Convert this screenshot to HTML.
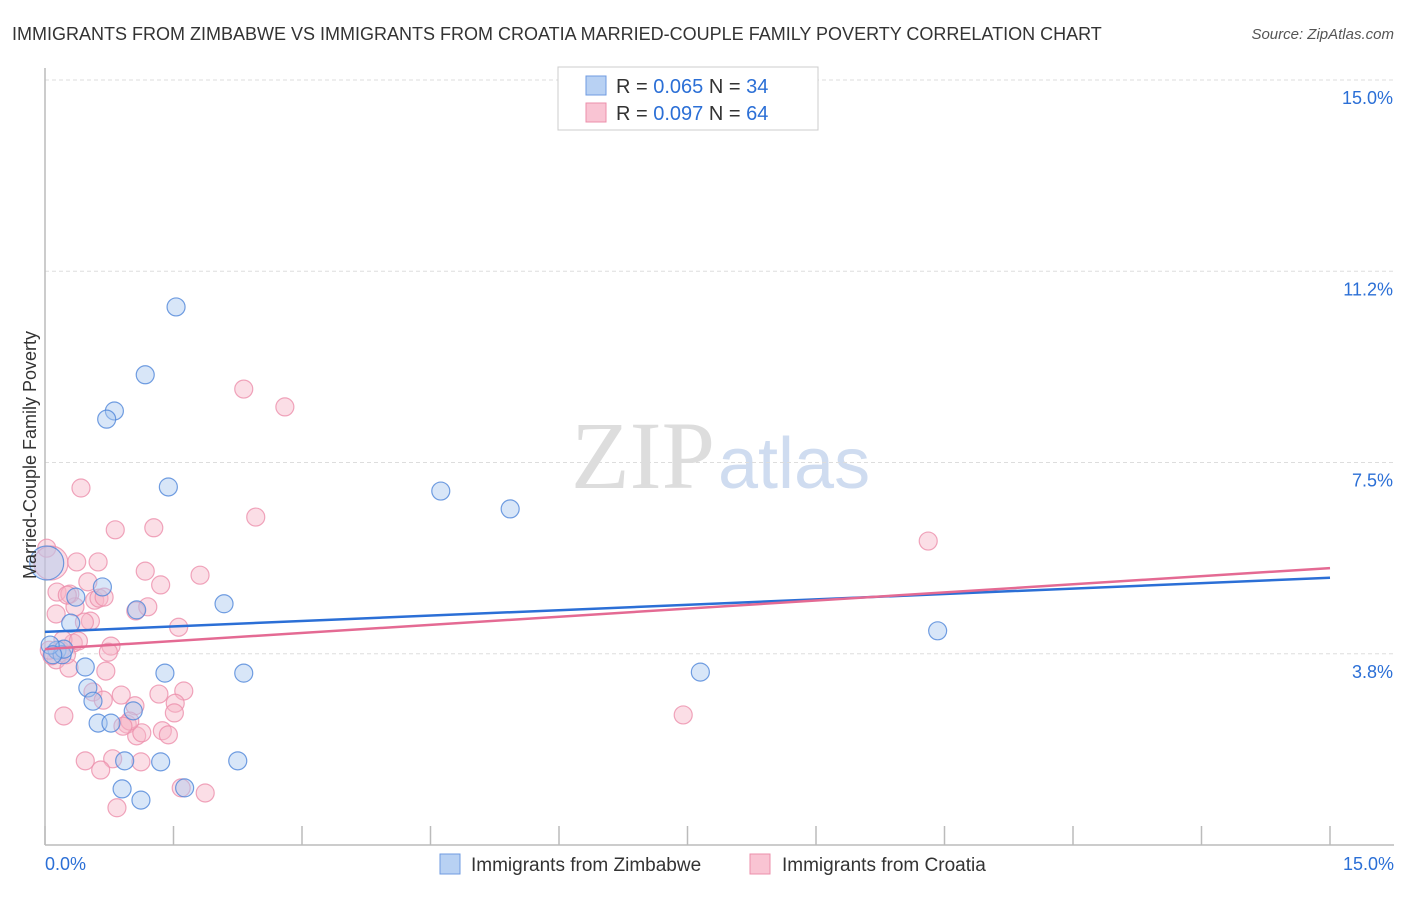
<!DOCTYPE html>
<html><head><meta charset="utf-8"><style>
body{margin:0;background:#fff;font-family:"Liberation Sans",sans-serif;}
</style></head><body>
<svg width="1406" height="892" xmlns="http://www.w3.org/2000/svg" font-family="Liberation Sans, sans-serif">
<text x="12" y="40" font-size="18" fill="#333">IMMIGRANTS FROM ZIMBABWE VS IMMIGRANTS FROM CROATIA MARRIED-COUPLE FAMILY POVERTY CORRELATION CHART</text>
<text x="1394" y="39" font-size="15" fill="#555" font-style="italic" text-anchor="end">Source: ZipAtlas.com</text>
<text x="715" y="488" font-size="96" font-family="Liberation Serif, serif" fill="#ddd" text-anchor="end">ZIP</text>
<text x="718" y="488" font-size="72" fill="#cfdcf0">atlas</text>
<g id="grid"></g>
<g id="axes"></g>
<g id="pts"></g>
<g id="trend"></g>
<text x="36" y="455" font-size="18" fill="#333" text-anchor="middle" transform="rotate(-90 36 455)">Married-Couple Family Poverty</text>
<g>
<rect x="558" y="67" width="260" height="63" fill="#fff" stroke="#ccc"/>
<rect x="586" y="76" width="20" height="19" fill="#b8d1f3" stroke="#6f9be0"/>
<rect x="586" y="103" width="20" height="19" fill="#f9c4d3" stroke="#ec8fab"/>
<text x="616" y="93" font-size="20" fill="#333">R = <tspan fill="#2b6fd6">0.065</tspan>   N = <tspan fill="#2b6fd6">34</tspan></text>
<text x="616" y="120" font-size="20" fill="#333">R = <tspan fill="#2b6fd6">0.097</tspan>   N = <tspan fill="#2b6fd6">64</tspan></text>
</g>
<g>
<rect x="440" y="854" width="20" height="20" fill="#b8d1f3" stroke="#6f9be0"/>
<text x="471" y="871" font-size="19" fill="#333">Immigrants from Zimbabwe</text>
<rect x="750" y="854" width="20" height="20" fill="#f9c4d3" stroke="#ec8fab"/>
<text x="782" y="871" font-size="19" fill="#333">Immigrants from Croatia</text>
</g>
<text x="45" y="870" font-size="18" fill="#2b6fd6">0.0%</text>
<text x="1394" y="870" font-size="18" fill="#2b6fd6" text-anchor="end">15.0%</text>
</svg>
<script>
const yTicks=[15.0,11.2,7.5,3.8];
const yTickLabels=["15.0%","11.2%","7.5%","3.8%"];
const yTickVals=[15,11.25,7.5,3.75];
const xTicks=[0,1.5,3,4.5,6,7.5,9,10.5,12,13.5,15];
const zimX=[1.53,1.17,0.81,0.72,1.44,4.62,5.43,0.67,0.36,1.07,2.09,0.30,10.42,0.02,0.14,0.20,0.47,1.40,2.32,7.65,0.50,0.56,0.62,0.77,1.03,0.93,1.35,2.25,0.90,1.12,1.63,0.22,0.06,0.09];
const zimY=[10.55,9.22,8.51,8.35,7.02,6.94,6.59,5.06,4.86,4.61,4.73,4.35,4.20,5.53,3.82,3.73,3.49,3.37,3.37,3.39,3.08,2.82,2.39,2.39,2.63,1.65,1.63,1.65,1.10,0.88,1.12,3.84,3.92,3.73];
const croX=[0.02,0.07,0.42,0.82,1.27,2.32,2.80,2.46,0.62,0.37,1.17,0.50,1.35,1.81,0.14,0.29,0.58,0.35,0.63,1.06,0.13,0.53,1.56,0.77,0.33,0.13,0.28,0.71,0.56,0.89,1.33,1.62,0.68,1.05,1.52,1.51,0.22,0.96,1.07,1.13,1.37,1.44,0.47,0.79,1.12,0.65,1.59,1.87,0.84,7.45,10.31,0.18,0.25,0.21,0.08,0.05,0.39,0.46,0.99,0.91,0.26,0.69,1.20,0.74];
const croY=[5.82,5.53,7.00,6.18,6.22,8.94,8.59,6.43,5.55,5.55,5.37,5.16,5.10,5.29,4.96,4.92,4.80,4.67,4.84,4.59,4.53,4.39,4.27,3.90,3.96,3.63,3.47,3.41,3.00,2.94,2.96,3.02,2.84,2.73,2.78,2.59,2.53,2.37,2.14,2.20,2.24,2.16,1.65,1.69,1.63,1.47,1.12,1.02,0.73,2.55,5.96,3.82,3.73,4.02,3.71,3.82,4.00,4.37,2.43,2.33,4.90,4.86,4.67,3.78];
const zimBig=[13];
const croBig=[1];
const zimTrend=[4.18,5.24];
const croTrend=[3.84,5.43];
const NS="http://www.w3.org/2000/svg";
const X=v=>45+v*(1285/15);
const Y=v=>845-v*51.0;
function mk(tag,attrs,parent){const e=document.createElementNS(NS,tag);for(const k in attrs)e.setAttribute(k,attrs[k]);document.getElementById(parent).appendChild(e);return e;}
yTickVals.forEach((v,i)=>{
 const g=mk('line',{x1:45,x2:1394,y1:Y(v),y2:Y(v),stroke:'#ddd','stroke-dasharray':'4 3'},'grid');
 
 
 const t=mk('text',{x:1393,y:Y(v)+24,'font-size':18,fill:'#2b6fd6','text-anchor':'end'},'grid');
 t.textContent=yTickLabels[i];
 
 
});
const ax=mk('line',{x1:45,x2:1394,y1:845,y2:845,stroke:'#bbb','stroke-width':1.5},'axes');


const ay=mk('line',{x1:45,x2:45,y1:68,y2:845,stroke:'#bbb','stroke-width':1.5},'axes');


xTicks.forEach(v=>{
 const t=mk('line',{x1:X(v),x2:X(v),y1:826,y2:845,stroke:'#bbb','stroke-width':1.5},'axes');
 
 
});
function pts(xs,ys,big,fill,stroke,name){
 xs.forEach((x,i)=>{
  const c=mk('circle',{cx:X(x),cy:Y(ys[i]),r:big.includes(i)?17:9,fill:fill,'fill-opacity':0.45,stroke:stroke,'stroke-width':1.2,'stroke-opacity':0.8},'pts');
  
  
 });
}
pts(croX,croY,croBig,'#f7b6c8','#ec8fab','point-croatia');
pts(zimX,zimY,zimBig,'#a9c8f0','#4f86d9','point-zimbabwe');
const l1=mk('line',{x1:X(0),x2:X(15),y1:Y(zimTrend[0]),y2:Y(zimTrend[1]),stroke:'#2b6fd6','stroke-width':2.5},'trend');


const l2=mk('line',{x1:X(0),x2:X(15),y1:Y(croTrend[0]),y2:Y(croTrend[1]),stroke:'#e46a93','stroke-width':2.5},'trend');


</script>
</body></html>
